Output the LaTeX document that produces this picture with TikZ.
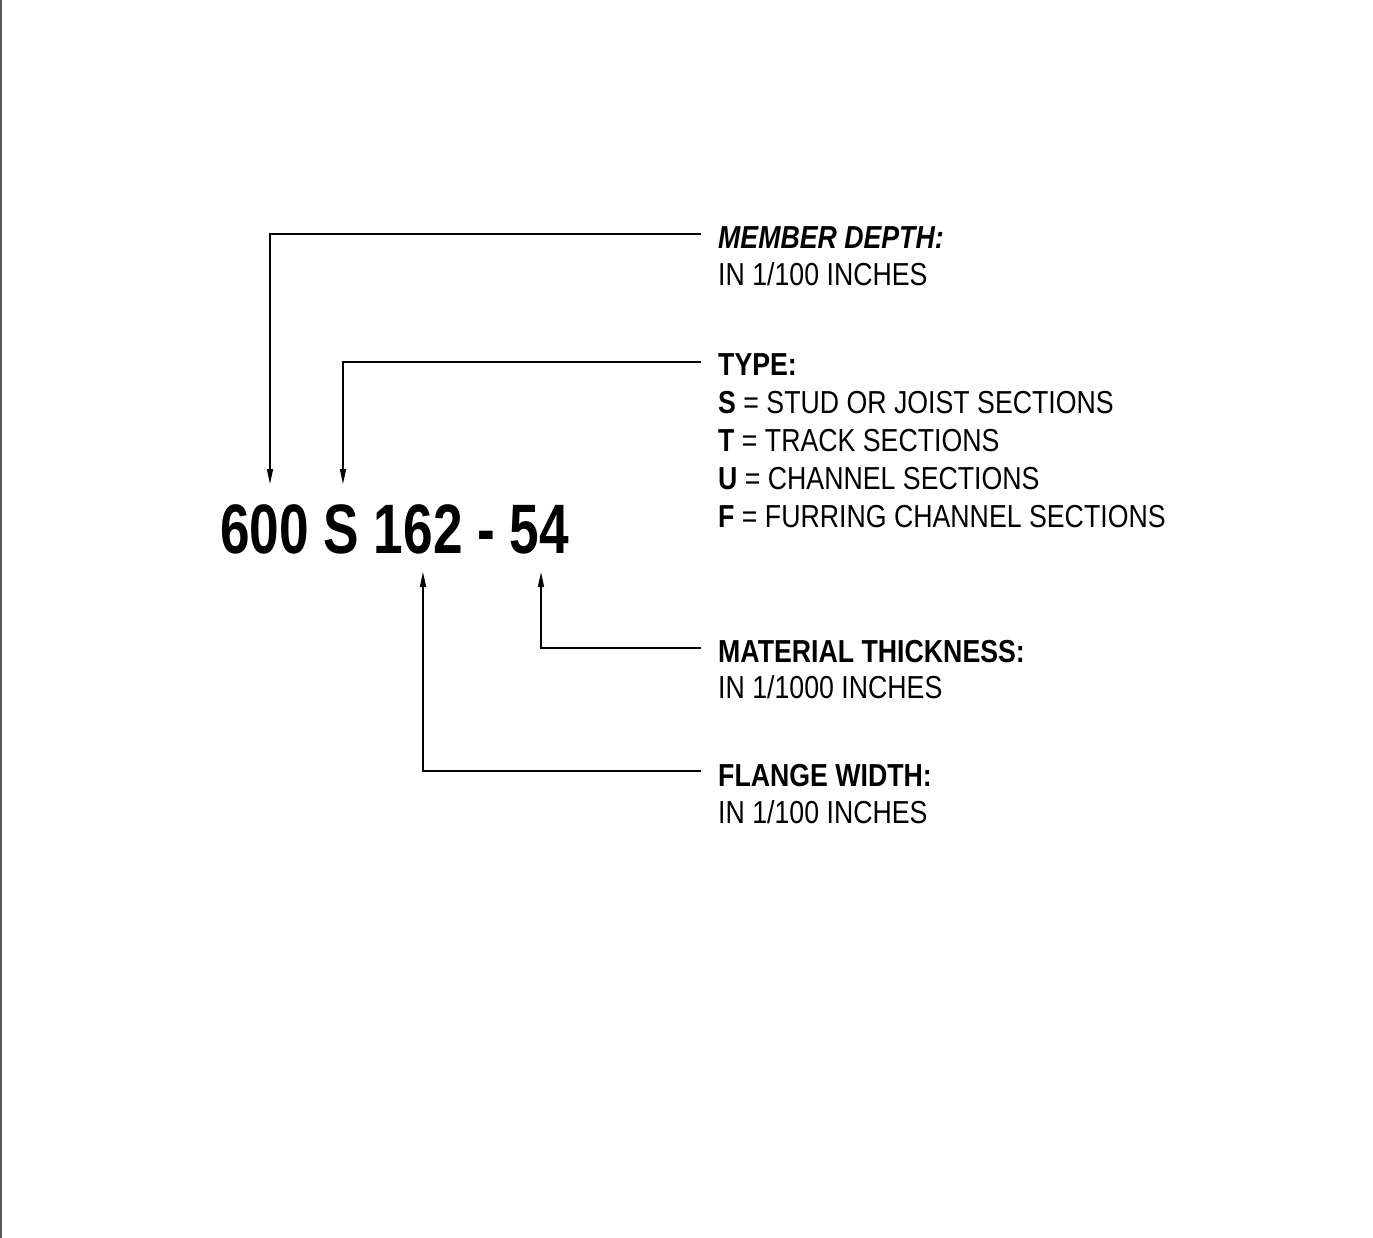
\documentclass[tikz,border=0pt]{standalone}
\usepackage{fontspec}
\setmainfont{Liberation Sans}[FakeStretch=0.84]
\newfontfamily\codefont{Liberation Sans}[FakeStretch=0.76]
\usetikzlibrary{arrows.meta}
\begin{document}
\begin{tikzpicture}[x=1pt,y=-1pt,
  lbl/.style={anchor=base west,inner sep=0pt,font=\fontsize{31.8}{38}\selectfont},
  leader/.style={line width=1.4pt,-{Triangle[length=15pt,width=6pt]}},
  codetext/.style={anchor=base west,inner sep=0pt,font=\codefont\bfseries\fontsize{70}{80}\selectfont}]
\useasboundingbox (0,0) rectangle (1373,1238);
\fill[white] (0,0) rectangle (1373,1238);
\draw[line width=2.5pt,black!65] (1,0) -- (1,1238);

% main designation
\node[codetext] (code) at (220,553) {600 S 162 - 54};

% labels
\node[lbl] (md1) at (718,249) {\bfseries\itshape MEMBER DEPTH:};
\node[lbl] (md2) at (718,286) {IN 1/100 INCHES};
\node[lbl] (ty1) at (718,375) {\bfseries TYPE:};
\node[lbl] (ty2) at (718,413) {\bfseries S\mdseries\ = STUD OR JOIST SECTIONS};
\node[lbl] (ty3) at (718,451) {\bfseries T\mdseries\ = TRACK SECTIONS};
\node[lbl] (ty4) at (718,489) {\bfseries U\mdseries\ = CHANNEL SECTIONS};
\node[lbl] (ty5) at (718,527) {\bfseries F\mdseries\ = FURRING CHANNEL SECTIONS};
\node[lbl] (mt1) at (718,662) {\bfseries MATERIAL THICKNESS:};
\node[lbl] (mt2) at (718,698) {IN 1/1000 INCHES};
\node[lbl] (fw1) at (718,786) {\bfseries FLANGE WIDTH:};
\node[lbl] (fw2) at (718,823) {IN 1/100 INCHES};

% leader start and tip points
\coordinate (mdS) at (701,234);
\coordinate (mdT) at (270,484);
\coordinate (tyS) at (701,362);
\coordinate (tyT) at (343,484);
\coordinate (mtS) at (701,648);
\coordinate (mtT) at (541,572);
\coordinate (fwS) at (701,771);
\coordinate (fwT) at (423,572);

\draw[leader] (mdS) -| (mdT);
\draw[leader] (tyS) -| (tyT);
\draw[leader] (mtS) -| (mtT);
\draw[leader] (fwS) -| (fwT);
\end{tikzpicture}
\end{document}
